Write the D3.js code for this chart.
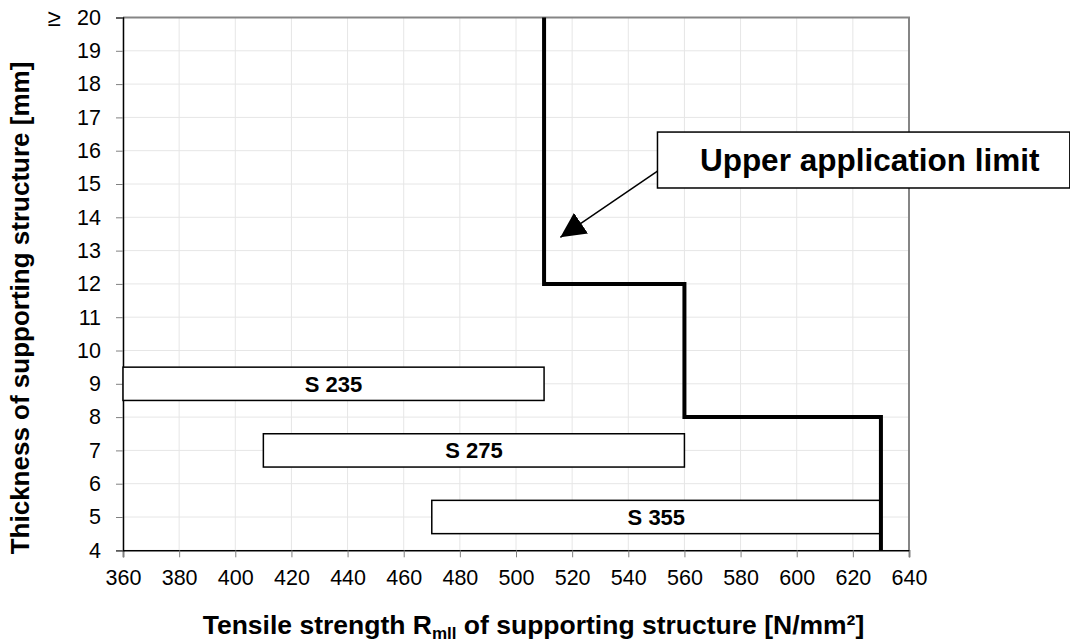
<!DOCTYPE html>
<html>
<head>
<meta charset="utf-8">
<script src="https://cdn.jsdelivr.net/npm/d3@7"></script>
<style>
  html, body { margin: 0; padding: 0; background: #fff; }
  svg { display: block; font-family: Arial, "Liberation Sans", sans-serif; }
</style>
</head>
<body>
<svg id="chart" width="1070" height="643"></svg>
<script>
// ---- data ----
const xTicks = [360, 380, 400, 420, 440, 460, 480, 500, 520, 540, 560, 580, 600, 620, 640];
const yTicks = [4, 5, 6, 7, 8, 9, 10, 11, 12, 13, 14, 15, 16, 17, 18, 19, 20];
const steelGrades = ["S 235", "S 275", "S 355"];
const gradeMin = [360, 410, 470];
const gradeMax = [510, 560, 630];
const gradeLow = [8.5, 6.5, 4.5];
const gradeHigh = [9.5, 7.5, 5.5];
const limitX = [510, 510, 560, 560, 630, 630];
const limitY = [20, 12, 12, 8, 8, 4];
const annotationText = "Upper application limit";
const annotationBoxX = [550.4, 697.3];
const annotationBoxY = [14.88, 16.56];
const arrowFrom = [550.4, 15.39];
const arrowTo = [515.8, 13.40];

// ---- layout ----
const svg = d3.select("#chart");
const pLeft = 123, pRight = 909, pTop = 17.5, pBottom = 550.3;
const x = d3.scaleLinear().domain([360, 640]).range([pLeft, pRight]);
const y = d3.scaleLinear().domain([4, 20]).range([pBottom, pTop]);
const tickFont = 21.5;

// grid
const grid = svg.append("g");
grid.selectAll("line.v").data(xTicks).enter().append("line")
  .attr("x1", d => x(d)).attr("x2", d => x(d)).attr("y1", pTop).attr("y2", pBottom)
  .attr("stroke", "#e6e6e6").attr("stroke-width", 1);
grid.selectAll("line.h").data(yTicks).enter().append("line")
  .attr("x1", pLeft).attr("x2", pRight).attr("y1", d => y(d)).attr("y2", d => y(d))
  .attr("stroke", "#e6e6e6").attr("stroke-width", 1);

// frame top/right
svg.append("line").attr("x1", pLeft).attr("x2", pRight + 1).attr("y1", pTop).attr("y2", pTop)
  .attr("stroke", "#858585").attr("stroke-width", 2);
svg.append("line").attr("x1", pRight).attr("x2", pRight).attr("y1", pTop).attr("y2", pBottom)
  .attr("stroke", "#858585").attr("stroke-width", 2);

// axes
const xAxis = svg.append("g").attr("transform", `translate(0,${pBottom})`)
  .call(d3.axisBottom(x).tickValues(xTicks).tickSize(7).tickPadding(12).tickFormat(d3.format("d")));
const yAxis = svg.append("g").attr("transform", `translate(${pLeft},0)`)
  .call(d3.axisLeft(y).tickValues(yTicks).tickSize(7).tickPadding(15).tickFormat(d3.format("d")));
[xAxis, yAxis].forEach(a => {
  a.selectAll(".tick line").attr("stroke", "#808080");
  a.selectAll(".tick text").attr("font-size", tickFont).attr("fill", "#000")
    .attr("font-family", "Arial, 'Liberation Sans', sans-serif");
  a.select(".domain").attr("stroke", "#000").attr("stroke-width", 1.5);
});

// "≥" before 20
svg.append("text").attr("x", 54).attr("y", y(20)).attr("dy", "0.34em")
  .attr("text-anchor", "middle").attr("font-size", 24).text("≥");

// grade bars
const bars = svg.append("g");
steelGrades.forEach((g, i) => {
  bars.append("rect")
    .attr("x", x(gradeMin[i])).attr("y", y(gradeHigh[i]))
    .attr("width", x(gradeMax[i]) - x(gradeMin[i]))
    .attr("height", y(gradeLow[i]) - y(gradeHigh[i]))
    .attr("fill", "#fff").attr("stroke", "#000").attr("stroke-width", 1.5);
  bars.append("text")
    .attr("x", (x(gradeMin[i]) + x(gradeMax[i])) / 2)
    .attr("y", y((gradeLow[i] + gradeHigh[i]) / 2)).attr("dy", "0.36em")
    .attr("text-anchor", "middle").attr("font-weight", "bold").attr("font-size", 22)
    .text(g);
});

// limit line
const pts = limitX.map((v, i) => [v, limitY[i]]);
svg.append("path").datum(pts)
  .attr("d", d3.line().x(d => x(d[0])).y(d => y(d[1])))
  .attr("fill", "none").attr("stroke", "#000").attr("stroke-width", 4)
  .attr("stroke-linejoin", "miter");

// annotation arrow
svg.append("defs").append("marker")
  .attr("id", "arrow").attr("viewBox", "0 0 10 10").attr("refX", 10).attr("refY", 5)
  .attr("markerWidth", 25).attr("markerHeight", 25).attr("markerUnits", "userSpaceOnUse")
  .attr("orient", "auto")
  .append("path").attr("d", "M0,0 L10,5 L0,10 z").attr("fill", "#000");
svg.append("line")
  .attr("x1", x(arrowFrom[0])).attr("y1", y(arrowFrom[1]))
  .attr("x2", x(arrowTo[0])).attr("y2", y(arrowTo[1]))
  .attr("stroke", "#000").attr("stroke-width", 1.5)
  .attr("marker-end", "url(#arrow)");

// annotation box
svg.append("rect")
  .attr("x", x(annotationBoxX[0])).attr("y", y(annotationBoxY[1]))
  .attr("width", x(annotationBoxX[1]) - x(annotationBoxX[0]))
  .attr("height", y(annotationBoxY[0]) - y(annotationBoxY[1]))
  .attr("fill", "#fff").attr("stroke", "#000").attr("stroke-width", 1.5);
svg.append("text")
  .attr("x", (x(annotationBoxX[0]) + x(annotationBoxX[1])) / 2 + 6)
  .attr("y", (y(annotationBoxY[0]) + y(annotationBoxY[1])) / 2).attr("dy", "0.35em")
  .attr("text-anchor", "middle").attr("font-weight", "bold").attr("font-size", 31.5)
  .text(annotationText);

// axis titles
const xt = svg.append("text").attr("x", 533.5).attr("y", 634)
  .attr("text-anchor", "middle").attr("font-weight", "bold").attr("font-size", 26.5);
xt.append("tspan").text("Tensile strength R");
xt.append("tspan").attr("font-size", 17).attr("dy", 5).text("mll");
xt.append("tspan").attr("dy", -5).text(" of supporting structure [N/mm²]");

svg.append("text").attr("transform", `translate(29,308) rotate(-90)`)
  .attr("text-anchor", "middle").attr("font-weight", "bold").attr("font-size", 26)
  .text("Thickness of supporting structure [mm]");
</script>
</body>
</html>
